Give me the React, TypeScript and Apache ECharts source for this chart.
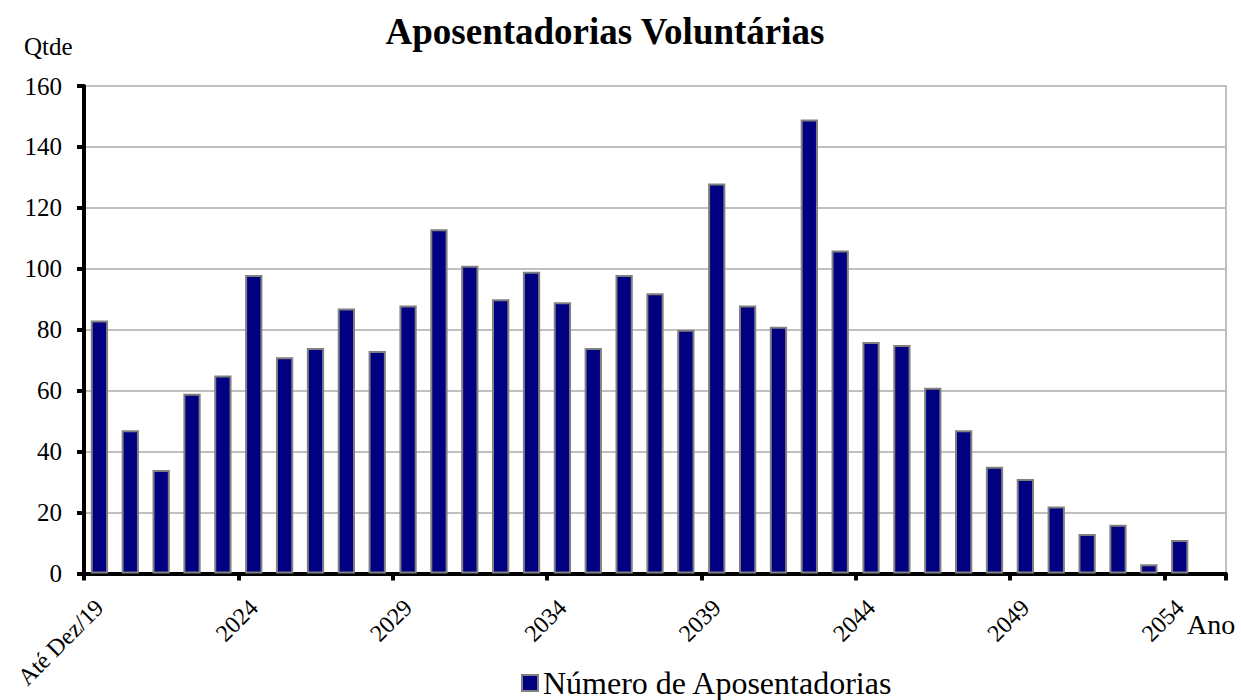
import React, { useEffect, useRef } from "react";
import * as echarts from "echarts";

const categories = [
  "Até Dez/19", "2020", "2021", "2022", "2023", "2024", "2025", "2026", "2027", "2028",
  "2029", "2030", "2031", "2032", "2033", "2034", "2035", "2036", "2037", "2038",
  "2039", "2040", "2041", "2042", "2043", "2044", "2045", "2046", "2047", "2048",
  "2049", "2050", "2051", "2052", "2053", "2054", "2055",
];

const aposentadorias = [
  83, 47, 34, 59, 65, 98, 71, 74, 87, 73,
  88, 113, 101, 90, 99, 89, 74, 98, 92, 80,
  128, 88, 81, 149, 106, 76, 75, 61, 47, 35,
  31, 22, 13, 16, 3, 11, null,
];

const yTicks = { min: 0, max: 160, interval: 20 };

const FONT = "'Liberation Serif', 'Times New Roman', serif";

export default function App() {
  const ref = useRef<HTMLDivElement>(null);

  useEffect(() => {
    document.body.style.margin = "0";
    if (!ref.current) return;
    const chart = echarts.init(ref.current, null, { renderer: "svg" });
    chart.setOption({
      animation: false,
      backgroundColor: "#ffffff",
      textStyle: { fontFamily: FONT, color: "#000" },
      grid: {
        left: 84,
        right: 15,
        top: 86,
        bottom: 126.5,
        show: true,
        borderColor: "#c0c0c0",
        borderWidth: 2,
        containLabel: false,
      },
      legend: {
        data: ["Número de Aposentadorias"],
        left: 516,
        top: 662,
        icon: "rect",
        itemWidth: 16,
        itemHeight: 16,
        itemGap: 10,
        textStyle: { fontFamily: FONT, fontSize: 32, color: "#000" },
      },
      graphic: [
        {
          type: "text",
          x: 605,
          y: 31,
          style: {
            text: "Aposentadorias Voluntárias",
            fontFamily: FONT,
            fontSize: 37,
            fontWeight: "bold",
            fill: "#000",
            align: "center",
            verticalAlign: "middle",
          },
        },
        {
          type: "text",
          x: 24,
          y: 46,
          style: {
            text: "Qtde",
            fontFamily: FONT,
            fontSize: 25,
            fill: "#000",
            align: "left",
            verticalAlign: "middle",
          },
        },
        {
          type: "text",
          x: 1187,
          y: 624,
          style: {
            text: "Ano",
            fontFamily: FONT,
            fontSize: 28,
            fill: "#000",
            align: "left",
            verticalAlign: "middle",
          },
        },
      ],
      xAxis: {
        type: "category",
        data: categories,
        boundaryGap: true,
        axisLine: { show: true, lineStyle: { color: "#000", width: 4 } },
        axisTick: {
          show: true,
          interval: 4,
          alignWithLabel: false,
          length: 7,
          lineStyle: { color: "#000", width: 4 },
        },
        axisLabel: {
          interval: 4,
          rotate: 45,
          margin: 30,
          fontFamily: FONT,
          fontSize: 24,
          color: "#000",
        },
        splitLine: { show: false },
      },
      yAxis: {
        type: "value",
        min: yTicks.min,
        max: yTicks.max,
        interval: yTicks.interval,
        axisLine: { show: true, lineStyle: { color: "#000", width: 4 } },
        axisTick: { show: true, length: 7, lineStyle: { color: "#000", width: 4 } },
        axisLabel: {
          margin: 22,
          fontFamily: FONT,
          fontSize: 25,
          color: "#000",
        },
        splitLine: { show: true, lineStyle: { color: "#c0c0c0", width: 2 } },
      },
      series: [
        {
          name: "Número de Aposentadorias",
          type: "bar",
          data: aposentadorias,
          barWidth: "56%",
          itemStyle: { color: "#000080", borderColor: "#808080", borderWidth: 2 },
        },
      ],
    });
    return () => chart.dispose();
  }, []);

  return <div ref={ref} style={{ width: 1241, height: 700 }} />;
}
